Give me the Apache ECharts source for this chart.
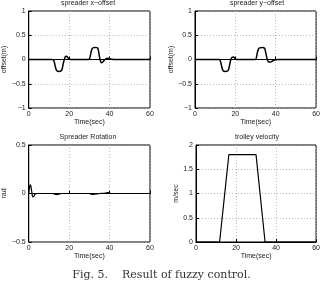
<html>
<head>
<meta charset="utf-8">
<script src="https://cdn.jsdelivr.net/npm/echarts@6/dist/echarts.min.js"></script>
</head>
<body style="margin:0;padding:0;background:#fff;">
<div id="myChart" style="width:323px;height:294px;"></div>
<script type="text/javascript">
var titles = ['spreader x\u2212offset', 'spreader y\u2212offset', 'Spreader Rotation', 'trolley velocity'];
var yNames = ['offset(m)', 'offset(m)', 'rad', 'm/sec'];
var xTicks = [0, 20, 40, 60];

var xOffT = [0, 11.5, 12, 12.5, 13, 13.5, 14, 15, 16, 16.5, 17, 17.5, 18, 18.5, 19, 19.5, 20, 21, 29.5, 30, 30.5, 31, 31.5, 32, 33, 34, 34.5, 35, 35.5, 36, 36.5, 37, 38, 39, 40, 41, 42, 60];
var xOffV = [0, 0, -0.005, -0.03, -0.12, -0.2, -0.235, -0.245, -0.235, -0.2, -0.1, -0.01, 0.05, 0.065, 0.055, 0.03, 0.01, 0, 0, 0.01, 0.08, 0.18, 0.23, 0.245, 0.25, 0.24, 0.18, 0.06, -0.03, -0.065, -0.06, -0.035, 0.01, 0.025, 0.015, 0.003, 0, 0];

var yOffT = [0, 12, 12.5, 13, 13.5, 14, 15, 16, 16.7, 17.2, 17.7, 18.3, 19, 19.5, 20, 21, 30, 30.5, 31, 31.5, 32, 33.5, 34.5, 35, 35.5, 36, 36.5, 37.5, 38.5, 39.5, 41, 60];
var yOffV = [0, 0, -0.02, -0.1, -0.19, -0.235, -0.245, -0.24, -0.2, -0.1, -0.01, 0.04, 0.05, 0.04, 0.015, 0, 0, 0.06, 0.16, 0.22, 0.24, 0.245, 0.23, 0.15, 0.05, -0.02, -0.05, -0.05, -0.025, -0.01, 0, 0];

var rotT = [0, 0.3, 0.7, 1, 1.5, 2, 2.5, 3, 4, 12, 13, 14, 15, 16, 30, 31, 32, 33, 35, 38, 39, 40, 41, 60];
var rotV = [0, 0.05, 0.09, 0.08, 0.02, -0.035, -0.03, -0.01, 0, 0, -0.008, -0.012, -0.006, 0, 0, -0.008, -0.01, -0.004, 0, 0.005, 0.01, 0.005, 0, 0];

var velT = [0, 11.8, 16.4, 30, 34.5, 60];
var velV = [0, 0, 1.8, 1.8, 0, 0];

var yRanges = [[-1, 1, 0.5], [-1, 1, 0.5], [-0.5, 0.5, 0.5], [0, 2, 0.5]];
var nameGaps = [16, 16, 14, 12];

function zip(t, v) {
	var out = [];
	for (var i = 0; i < t.length; i++) out.push([t[i], v[i]]);
	return out;
}
var seriesData = [zip(xOffT, xOffV), zip(yOffT, yOffV), zip(rotT, rotV), zip(velT, velV)];

var grids = [
	{left: 26, top: 11, width: 124, height: 97},
	{left: 195, top: 11, width: 124, height: 97},
	{left: 26, top: 145, width: 124, height: 97},
	{left: 196, top: 145, width: 123, height: 97}
];
var titleX = [88, 257, 88, 257];
var titleY = [0, 0, 134, 134];

var sans = 'Liberation Sans';
var fs = 7;
function minus(v) { return String(v).replace('-', '\u2212'); }

var option = {
	animation: false,
	title: [],
	grid: [],
	xAxis: [],
	yAxis: [],
	series: [],
	graphic: [{
		type: 'text', left: 'center', top: 270,
		style: {text: 'Fig. 5.    Result of fuzzy control.', font: '11px "DejaVu Serif"', fill: '#333'}
	}]
};

for (var i = 0; i < 4; i++) {
	var g = grids[i];
	option.grid.push({left: g.left, top: g.top, width: g.width, height: g.height, show: true, borderColor: '#000', borderWidth: 1, backgroundColor: '#fff'});
	option.title.push({text: titles[i], left: titleX[i], top: titleY[i], textAlign: 'center', padding: 0,
		textStyle: {fontFamily: sans, fontSize: fs, fontWeight: 'normal', color: '#222'}});
	option.xAxis.push({
		type: 'value', gridIndex: i, min: 0, max: 60, interval: 20,
		name: 'Time(sec)', nameLocation: 'middle', nameGap: 11,
		nameTextStyle: {fontFamily: sans, fontSize: fs, color: '#222'},
		axisLine: {lineStyle: {color: '#000'}},
		axisTick: {inside: true, length: 3, lineStyle: {color: '#000'}},
		axisLabel: {fontFamily: sans, fontSize: fs, color: '#222', margin: 3},
		splitLine: {show: true, lineStyle: {color: '#aaa', type: [1, 2], width: 0.8}}
	});
	option.yAxis.push({
		type: 'value', gridIndex: i, min: yRanges[i][0], max: yRanges[i][1], interval: yRanges[i][2],
		name: yNames[i], nameLocation: 'middle', nameGap: nameGaps[i],
		nameTextStyle: {fontFamily: sans, fontSize: fs, color: '#222'},
		axisLine: {show: true, lineStyle: {color: '#000'}},
		axisTick: {show: true, inside: true, length: 3, lineStyle: {color: '#000'}},
		axisLabel: {fontFamily: sans, fontSize: fs, color: '#222', margin: 3, formatter: minus},
		splitLine: {show: true, lineStyle: {color: '#aaa', type: [1, 2], width: 0.8}}
	});
	option.series.push({
		type: 'line', xAxisIndex: i, yAxisIndex: i, data: seriesData[i],
		showSymbol: false, smooth: i < 3 ? 0.3 : false,
		lineStyle: {color: '#000', width: i < 2 ? 1.5 : 1.2}
	});
}

echarts.init(document.getElementById('myChart')).setOption(option);
</script>
</body>
</html>
